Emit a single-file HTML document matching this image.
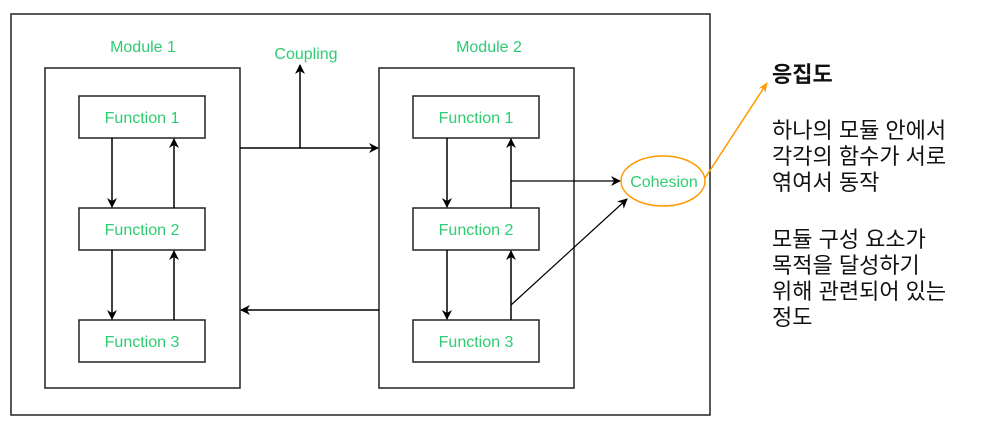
<!DOCTYPE html>
<html><head><meta charset="utf-8"><style>
body{margin:0;background:#fff;width:991px;height:425px;overflow:hidden}
</style></head><body>
<svg width="991" height="425" xmlns="http://www.w3.org/2000/svg" font-family="Liberation Sans, Arial, sans-serif">
<defs>
<marker id="a" markerWidth="10" markerHeight="10" refX="9" refY="5" orient="auto" markerUnits="userSpaceOnUse"><path d="M0,0 L10,5 L0,10 L3,5 z" fill="#000"/></marker>
<marker id="o" markerWidth="10" markerHeight="10" refX="9" refY="5" orient="auto" markerUnits="userSpaceOnUse"><path d="M0,1 L10,5 L0,9 L3,5 z" fill="#f90"/></marker>
</defs>
<g fill="none" stroke="#222" stroke-width="1.5">
<rect x="11" y="14" width="699" height="401"/>
<rect x="45" y="68" width="195" height="320"/>
<rect x="379" y="68" width="195" height="320"/>
<rect x="79" y="96" width="126" height="42"/>
<rect x="79" y="208" width="126" height="42"/>
<rect x="79" y="320" width="126" height="42"/>
<rect x="413" y="96" width="126" height="42"/>
<rect x="413" y="208" width="126" height="42"/>
<rect x="413" y="320" width="126" height="42"/>
</g>
<g stroke="#000" stroke-width="1.5" fill="none">
<line x1="112" y1="138" x2="112" y2="207" marker-end="url(#a)"/>
<line x1="174" y1="208" x2="174" y2="139" marker-end="url(#a)"/>
<line x1="112" y1="250" x2="112" y2="319" marker-end="url(#a)"/>
<line x1="174" y1="320" x2="174" y2="251" marker-end="url(#a)"/>
<line x1="447" y1="138" x2="447" y2="207" marker-end="url(#a)"/>
<line x1="511" y1="208" x2="511" y2="139" marker-end="url(#a)"/>
<line x1="447" y1="250" x2="447" y2="319" marker-end="url(#a)"/>
<line x1="511" y1="320" x2="511" y2="251" marker-end="url(#a)"/>
<line x1="240" y1="148" x2="378" y2="148" marker-end="url(#a)"/>
<line x1="300" y1="148" x2="300" y2="65" marker-end="url(#a)"/>
<line x1="379" y1="310" x2="241" y2="310" marker-end="url(#a)"/>
<line x1="511" y1="181" x2="620" y2="181" marker-end="url(#a)" stroke-width="1.2"/>
<line x1="511" y1="305" x2="627" y2="199" marker-end="url(#a)" stroke-width="1.2"/>
</g>
<ellipse cx="663" cy="181" rx="42" ry="25" fill="#fff" stroke="#f90" stroke-width="1.5"/>
<line x1="705" y1="178" x2="767" y2="83" stroke="#f90" stroke-width="1.5" marker-end="url(#o)"/>
<g fill="#2ecc71" font-size="16" text-anchor="middle">
<text x="143" y="52">Module 1</text>
<text x="489" y="52">Module 2</text>
<text x="306" y="59">Coupling</text>
<text x="142" y="123">Function 1</text>
<text x="142" y="235">Function 2</text>
<text x="142" y="347">Function 3</text>
<text x="476" y="123">Function 1</text>
<text x="476" y="235">Function 2</text>
<text x="476" y="347">Function 3</text>
<text x="664" y="187" font-size="16">Cohesion</text>
</g>
<g font-family="Liberation Sans, Noto Sans CJK KR, sans-serif" font-size="22" fill="#111">
<text x="772" y="82" font-weight="bold">응집도</text>
<text x="772" y="138">하나의 모듈 안에서</text>
<text x="772" y="164">각각의 함수가 서로</text>
<text x="772" y="190">엮여서 동작</text>
<text x="772" y="247">모듈 구성 요소가</text>
<text x="772" y="273">목적을 달성하기</text>
<text x="772" y="299">위해 관련되어 있는</text>
<text x="772" y="325">정도</text>
</g>
</svg>
</body></html>
